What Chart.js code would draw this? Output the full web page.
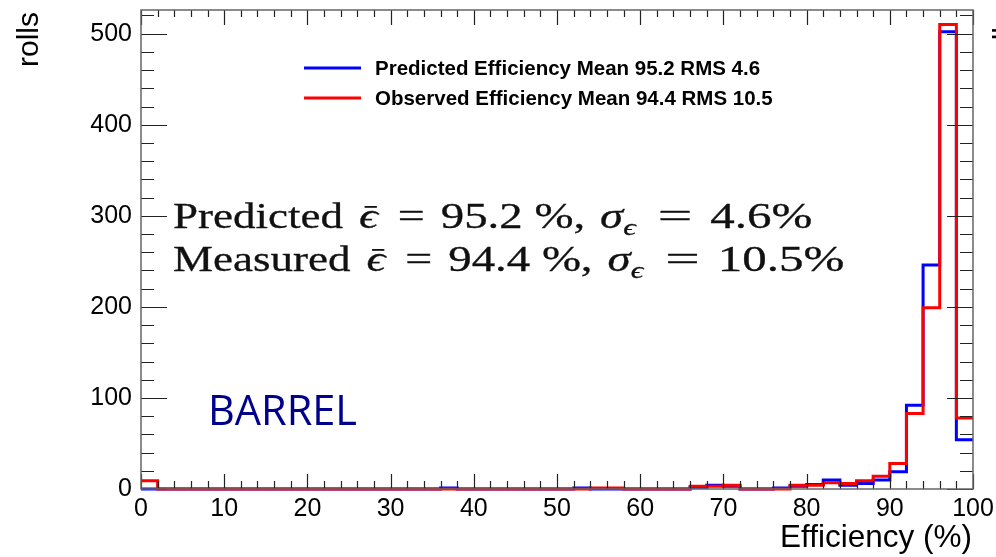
<!DOCTYPE html>
<html>
<head>
<meta charset="utf-8">
<script src="https://cdn.jsdelivr.net/npm/chart.js@4"></script>
<style>
  html, body { margin: 0; padding: 0; background: #fff; }
  canvas { display: block; }
</style>
</head>
<body>
<canvas id="effChart" width="996" height="557"></canvas>
<script>
// Histogram binning: 50 bins of 2% between 0 and 100
const binEdges = [
  0, 2, 4, 6, 8, 10, 12, 14, 16, 18, 20, 22, 24, 26, 28, 30, 32, 34, 36, 38,
  40, 42, 44, 46, 48, 50, 52, 54, 56, 58, 60, 62, 64, 66, 68, 70, 72, 74, 76, 78,
  80, 82, 84, 86, 88, 90, 92, 94, 96, 98, 100
];

// Rolls per bin, predicted efficiency
const predictedCounts = [
  0, 0, 0, 0, 0, 0, 0, 0, 0, 0, 0, 0, 0, 0, 0, 0, 0, 0, 1, 0,
  0, 0, 0, 0, 0, 0, 1, 0, 0, 0, 0, 0, 0, 2, 4, 3, 0, 0, 1, 3,
  5, 10, 4, 6, 10, 19, 92, 246, 502, 54
];

// Rolls per bin, observed efficiency
const observedCounts = [
  9, 0, 0, 0, 0, 0, 0, 0, 0, 0, 0, 0, 0, 0, 0, 0, 0, 0, 0, 0,
  0, 0, 0, 0, 0, 0, 0, 1, 1, 0, 0, 0, 0, 3, 3, 4, 0, 0, 0, 4,
  4, 7, 6, 9, 14, 28, 83, 199, 510, 78
];

const xTicks = [0, 10, 20, 30, 40, 50, 60, 70, 80, 90, 100];
const yTicks = [0, 100, 200, 300, 400, 500];
const yMax = 526;

const legendLabels = [
  'Predicted Efficiency Mean 95.2 RMS 4.6',
  'Observed Efficiency Mean 94.4 RMS 10.5'
];
const statLines = [
  { name: 'Predicted', mean: '95.2', sigma: '4.6' },
  { name: 'Measured', mean: '94.4', sigma: '10.5' }
];

const BLUE = '#0000ff';
const RED = '#ff0000';

// each bin value is held from its low edge, the last one closes at 100
function histPoints(counts) {
  const pts = counts.map((c, i) => ({ x: binEdges[i], y: c }));
  pts.push({ x: binEdges[counts.length], y: counts[counts.length - 1] });
  return pts;
}

// ROOT style frame: box with ticks pointing inwards on all four sides
const frameTicks = {
  id: 'frameTicks',
  afterDatasetsDraw(chart) {
    const { ctx, chartArea: a, scales: { x, y } } = chart;
    ctx.save();
    ctx.strokeStyle = '#222';
    ctx.lineWidth = 1.2;
    ctx.beginPath();
    for (let v = 0; v <= 100; v += 2) {
      const px = Math.round(x.getPixelForValue(v)) + 0.5;
      const major = v % 10 === 0;
      ctx.moveTo(px, a.bottom);
      ctx.lineTo(px, a.bottom - (major ? 15 : 8));
      ctx.moveTo(px, a.top);
      ctx.lineTo(px, a.top + (major ? 15 : 7));
    }
    for (let v = 0; v <= yMax; v += 20) {
      const py = Math.round(y.getPixelForValue(v)) + 0.5;
      const major = v % 100 === 0;
      ctx.moveTo(a.left, py);
      ctx.lineTo(a.left + (major ? 26 : 13), py);
      ctx.moveTo(a.right, py);
      ctx.lineTo(a.right - (major ? 26 : 13), py);
    }
    ctx.stroke();
    ctx.strokeStyle = '#666';
    ctx.lineWidth = 1.5;
    ctx.strokeRect(a.left, a.top, a.right - a.left, a.bottom - a.top);
    ctx.restore();
  }
};

// one summary line: text + math runs, each stretched sideways a little
function drawStatLine(ctx, x0, baseline, s) {
  const fam = "'Liberation Serif', 'DejaVu Serif', serif";
  const roman = `36px ${fam}`;
  const italic = `italic 36px ${fam}`;
  const sub = `italic 24px ${fam}`;
  ctx.save();
  ctx.fillStyle = '#111';
  ctx.strokeStyle = '#111';
  ctx.lineWidth = 0.3;
  ctx.textAlign = 'left';
  ctx.textBaseline = 'alphabetic';
  let cx = x0;
  const put = (txt, font, sx, dy = 0) => {
    ctx.font = font;
    const w = ctx.measureText(txt).width * sx;
    ctx.save();
    ctx.translate(cx, baseline + dy);
    ctx.scale(sx, 1);
    ctx.fillText(txt, 0, 0);
    ctx.strokeText(txt, 0, 0);
    ctx.restore();
    const start = cx;
    cx += w;
    return [start, w];
  };
  put(s.name, roman, 1.25);
  cx += 16;
  const [ex, ew] = put('ϵ', italic, 1.3);
  ctx.fillRect(ex + ew * 0.3, baseline - 22, ew * 0.65, 1.8);
  cx += 20;
  put('=', roman, 1.33);
  cx += 16;
  put(s.mean + ' %,', roman, 1.3);
  cx += 15;
  put('σ', italic, 1.3);
  put('ϵ', sub, 1.3, 7);
  cx += 22;
  put('=', roman, 1.7);
  cx += 18;
  put(s.sigma + '%', roman, 1.36);
  ctx.restore();
}

const annotations = {
  id: 'annotations',
  afterDraw(chart) {
    const { ctx } = chart;
    ctx.save();

    // legend
    ctx.lineWidth = 3;
    ctx.font = "bold 20.5px 'Liberation Sans', Arial, sans-serif";
    ctx.textBaseline = 'middle';
    ctx.textAlign = 'left';
    [[BLUE, 68], [RED, 98]].forEach(([col, ly], i) => {
      ctx.strokeStyle = col;
      ctx.beginPath();
      ctx.moveTo(304, ly);
      ctx.lineTo(361, ly);
      ctx.stroke();
      ctx.fillStyle = '#000';
      ctx.fillText(legendLabels[i], 375, ly + 1);
    });

    // summary lines
    statLines.forEach((s, i) => drawStatLine(ctx, 173, 228 + i * 43, s));

    // region tag
    ctx.fillStyle = '#00008b';
    ctx.font = "41.5px 'Open Sans', 'Noto Sans', sans-serif";
    ctx.textBaseline = 'alphabetic';
    ctx.fillText('BARREL', 208, 425);

    // axis titles
    ctx.fillStyle = '#000';
    ctx.font = "31.5px 'Liberation Sans', Arial, sans-serif";
    ctx.textAlign = 'right';
    ctx.fillText('Efficiency (%)', 972, 547);

    ctx.font = "30px 'Liberation Sans', Arial, sans-serif";
    ctx.textAlign = 'left';
    [38, 1014].forEach(bx => {
      ctx.save();
      ctx.translate(bx, 67);
      ctx.rotate(-Math.PI / 2);
      ctx.fillText('rolls', 0, 0);
      ctx.restore();
    });
    ctx.restore();
  }
};

const tickFont = { family: "'Liberation Sans', Arial, sans-serif", size: 25 };

new Chart(document.getElementById('effChart'), {
  type: 'line',
  data: {
    datasets: [
      {
        label: legendLabels[1],
        data: histPoints(observedCounts),
        borderColor: RED,
        borderWidth: 3,
        stepped: true,
        pointRadius: 0,
        fill: false,
        clip: 6,
        order: 0
      },
      {
        label: legendLabels[0],
        data: histPoints(predictedCounts),
        borderColor: BLUE,
        borderWidth: 3,
        stepped: true,
        pointRadius: 0,
        fill: false,
        clip: 6,
        order: 1
      }
    ]
  },
  options: {
    responsive: false,
    animation: false,
    events: [],
    layout: { padding: { top: 10, right: 23, bottom: 0, left: 0 } },
    plugins: {
      legend: { display: false },
      tooltip: { enabled: false }
    },
    scales: {
      x: {
        type: 'linear',
        min: 0,
        max: 100,
        afterFit(scale) {
          scale.height = 68;
          scale.paddingLeft = 0;
          scale.paddingRight = 0;
        },
        afterBuildTicks(scale) { scale.ticks = xTicks.map(v => ({ value: v })); },
        grid: { display: false, drawTicks: false },
        border: { display: false },
        ticks: {
          autoSkip: false,
          maxRotation: 0,
          padding: 5,
          color: '#000',
          font: tickFont
        }
      },
      y: {
        min: 0,
        max: yMax,
        afterFit(scale) {
          scale.width = 141;
          scale.paddingTop = 0;
          scale.paddingBottom = 0;
        },
        afterBuildTicks(scale) { scale.ticks = yTicks.map(v => ({ value: v })); },
        grid: { display: false, drawTicks: false },
        border: { display: false },
        ticks: {
          autoSkip: false,
          padding: 9,
          color: '#000',
          font: tickFont
        }
      }
    }
  },
  plugins: [frameTicks, annotations]
});
</script>
</body>
</html>
